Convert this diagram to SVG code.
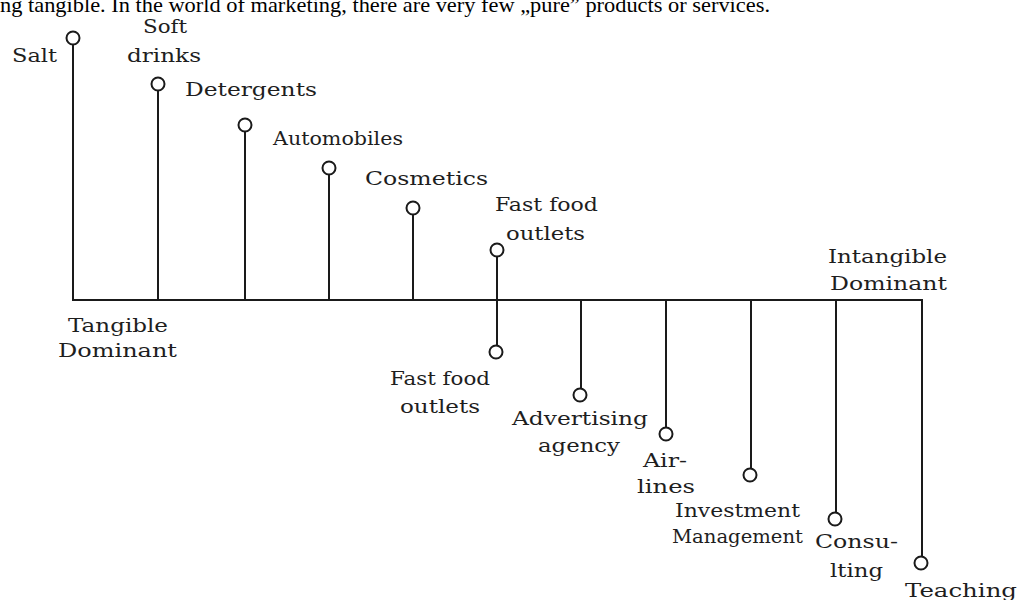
<svg xmlns="http://www.w3.org/2000/svg" width="1018" height="600" viewBox="0 0 1018 600">
<style>
.bg{fill:#ffffff}
.ln{stroke:#1a1a1a;stroke-width:2;fill:none;stroke-linecap:square}
.pin{fill:#ffffff;stroke:#1a1a1a;stroke-width:2}
.t{font-family:"DejaVu Serif","Liberation Serif",serif;font-size:19px;fill:#1e1e1e}
.top{font-family:"Liberation Serif","Times New Roman",serif;font-size:21px;fill:#000}
</style>
<rect class="bg" x="0" y="0" width="1018" height="600"/>
<text class="top" x="0" y="12" textLength="770" lengthAdjust="spacingAndGlyphs">ng tangible. In the world of marketing, there are very few „pure” products or services.</text>
<g id="connectors">
<line class="ln" x1="73" y1="300" x2="922" y2="300"/>
<line class="ln" x1="73" y1="44.5" x2="73" y2="300"/>
<line class="ln" x1="158" y1="90.5" x2="158" y2="300"/>
<line class="ln" x1="245" y1="131.5" x2="245" y2="300"/>
<line class="ln" x1="329" y1="174.5" x2="329" y2="300"/>
<line class="ln" x1="413" y1="214.5" x2="413" y2="300"/>
<line class="ln" x1="497" y1="256.5" x2="497" y2="345.5"/>
<line class="ln" x1="581" y1="300" x2="581" y2="388.5"/>
<line class="ln" x1="666" y1="300" x2="666" y2="427.5"/>
<line class="ln" x1="751" y1="300" x2="751" y2="468.5"/>
<line class="ln" x1="836" y1="300" x2="836" y2="512.5"/>
<line class="ln" x1="922" y1="300" x2="922" y2="556.5"/>
</g>
<g id="salt">
<circle class="pin" cx="73" cy="38" r="6.5"/>
<text class="t" x="12" y="62" textLength="45" lengthAdjust="spacingAndGlyphs">Salt</text>
</g>
<g id="soft-drinks">
<circle class="pin" cx="158" cy="84" r="6.5"/>
<text class="t" x="143" y="33" textLength="44" lengthAdjust="spacingAndGlyphs">Soft</text>
<text class="t" x="127" y="62" textLength="74" lengthAdjust="spacingAndGlyphs">drinks</text>
</g>
<g id="detergents">
<circle class="pin" cx="245" cy="125" r="6.5"/>
<text class="t" x="185" y="96" textLength="132" lengthAdjust="spacingAndGlyphs">Detergents</text>
</g>
<g id="automobiles">
<circle class="pin" cx="329" cy="168" r="6.5"/>
<text class="t" x="273" y="145" textLength="130" lengthAdjust="spacingAndGlyphs">Automobiles</text>
</g>
<g id="cosmetics">
<circle class="pin" cx="413" cy="208" r="6.5"/>
<text class="t" x="365" y="185" textLength="123" lengthAdjust="spacingAndGlyphs">Cosmetics</text>
</g>
<g id="fast-food-top">
<circle class="pin" cx="497" cy="250" r="6.5"/>
<text class="t" x="495" y="211" textLength="103" lengthAdjust="spacingAndGlyphs">Fast food</text>
<text class="t" x="506" y="240" textLength="79" lengthAdjust="spacingAndGlyphs">outlets</text>
</g>
<g id="tangible-dominant">
<text class="t" x="68" y="332" textLength="100" lengthAdjust="spacingAndGlyphs">Tangible</text>
<text class="t" x="58" y="357" textLength="119" lengthAdjust="spacingAndGlyphs">Dominant</text>
</g>
<g id="intangible-dominant">
<text class="t" x="828" y="263" textLength="119" lengthAdjust="spacingAndGlyphs">Intangible</text>
<text class="t" x="830" y="290" textLength="117" lengthAdjust="spacingAndGlyphs">Dominant</text>
</g>
<g id="fast-food-bottom">
<circle class="pin" cx="496" cy="352" r="6.5"/>
<text class="t" x="390" y="385" textLength="100" lengthAdjust="spacingAndGlyphs">Fast food</text>
<text class="t" x="400" y="413" textLength="80" lengthAdjust="spacingAndGlyphs">outlets</text>
</g>
<g id="advertising">
<circle class="pin" cx="580" cy="395" r="6.5"/>
<text class="t" x="512" y="425" textLength="136" lengthAdjust="spacingAndGlyphs">Advertising</text>
<text class="t" x="538" y="452" textLength="82" lengthAdjust="spacingAndGlyphs">agency</text>
</g>
<g id="airlines">
<circle class="pin" cx="666" cy="434" r="6.5"/>
<text class="t" x="643" y="467" textLength="44" lengthAdjust="spacingAndGlyphs">Air-</text>
<text class="t" x="637" y="493" textLength="58" lengthAdjust="spacingAndGlyphs">lines</text>
</g>
<g id="investment">
<circle class="pin" cx="750" cy="475" r="6.5"/>
<text class="t" x="675" y="517" textLength="125" lengthAdjust="spacingAndGlyphs">Investment</text>
<text class="t" x="672" y="543" textLength="131" lengthAdjust="spacingAndGlyphs">Management</text>
</g>
<g id="consulting">
<circle class="pin" cx="835" cy="519" r="6.5"/>
<text class="t" x="815" y="548" textLength="83" lengthAdjust="spacingAndGlyphs">Consu-</text>
<text class="t" x="830" y="577" textLength="53" lengthAdjust="spacingAndGlyphs">lting</text>
</g>
<g id="teaching">
<circle class="pin" cx="921" cy="563" r="6.5"/>
<text class="t" x="905" y="597" textLength="112" lengthAdjust="spacingAndGlyphs">Teaching</text>
</g>
</svg>
